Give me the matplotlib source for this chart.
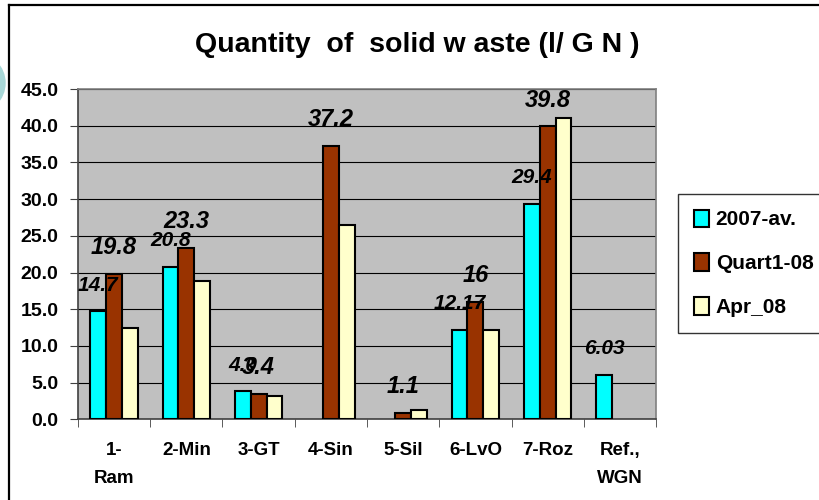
import matplotlib
matplotlib.use("Agg")
import matplotlib.pyplot as plt
import numpy as np
from matplotlib.patches import Ellipse
from matplotlib.lines import Line2D

# data
kategoriler = ["1-\nRam", "2-Min", "3-GT", "4-Sin", "5-Sil", "6-LvO", "7-Roz", "Ref.,\nWGN"]
seriler = ["2007-av.", "Quart1-08", "Apr_08"]
av_2007 = [14.7, 20.8, 3.8, np.nan, np.nan, 12.17, 29.4, 6.03]
quart1_08 = [19.8, 23.3, 3.5, 37.2, 0.9, 16.0, 39.9, np.nan]
apr_08 = [12.4, 18.8, 3.2, 26.5, 1.3, 12.2, 41.1, np.nan]
# value labels as printed in the chart (only first two series are labelled)
av_2007_etiket = ["14.7", "20.8", "4.0", None, None, "12.17", "29.4", "6.03"]
quart1_08_etiket = ["19.8", "23.3", "3.4", "37.2", "1.1", "16", "39.8", None]

renkler = ["#00FFFF", "#993300", "#FFFFCC"]

plt.rcParams['font.family'] = ['Liberation Sans', 'DejaVu Sans']

fig = plt.figure(figsize=(8.19, 5.0), dpi=100)
ax = fig.add_axes([0.0952, 0.1614, 0.7058, 0.6606])
ax.set_facecolor("#C0C0C0")

x = np.arange(len(kategoriler))
w = 0.22
degerler = [av_2007, quart1_08, apr_08]
barlar = []
for i, (seri, renk) in enumerate(zip(degerler, renkler)):
    b = ax.bar(x + (i - 1) * w, seri, width=w, color=renk, edgecolor="black",
               linewidth=1.5, label=seriler[i], zorder=3)
    barlar.append(b)

# data labels, floating above the bars
for seri_i, (etiketler, boyut) in enumerate([(av_2007_etiket, 15), (quart1_08_etiket, 17)]):
    for j, et in enumerate(etiketler):
        if et is None:
            continue
        ax.annotate(et, xy=(x[j] + (seri_i - 1) * w, degerler[seri_i][j]),
                    xytext=(0, 19), textcoords="offset points",
                    ha="center", va="center", fontsize=boyut,
                    fontweight="bold", fontstyle="italic",
                    family=['Liberation Sans Narrow', 'Liberation Sans'], zorder=5)

ax.set_xlim(-0.5, len(kategoriler) - 0.5)
ax.set_ylim(0, 45)
ax.set_yticks(np.arange(0, 46, 5))
ax.set_yticklabels([f"{v:.1f}" for v in np.arange(0, 46, 5)], fontsize=14, fontweight="bold")
ax.yaxis.grid(True, color="black", linewidth=0.8)
ax.set_axisbelow(True)

ax.set_xticks(x)
ax.set_xticklabels(kategoriler, fontsize=13.5, fontweight="bold", linespacing=1.85, va="top")
ax.set_xticks(np.arange(-0.5, len(kategoriler)), minor=True)
ax.tick_params(axis="x", which="major", length=0, pad=16)
ax.tick_params(axis="x", which="minor", length=6, direction="out", color="#404040")
ax.tick_params(axis="y", length=6, direction="out", color="#404040", pad=8)

for s in ["top", "right"]:
    ax.spines[s].set_color("#808080")
    ax.spines[s].set_linewidth(1.2)
for s in ["left", "bottom"]:
    ax.spines[s].set_color("#404040")
    ax.spines[s].set_linewidth(1.2)

fig.text(0.509, 0.91, "Quantity  of  solid w aste (l/ G N )", ha="center", va="center",
         fontsize=20.5, fontweight="bold")

leg = fig.legend(handles=barlar, labels=seriler, loc="upper left",
                 bbox_to_anchor=(0.828, 0.612), frameon=True, fancybox=False,
                 prop={"weight": "bold", "size": 15}, handlelength=0.75,
                 handleheight=0.9, handletextpad=0.3, labelspacing=1.15,
                 borderpad=0.75, borderaxespad=0)
leg.get_frame().set_edgecolor("black")
leg.get_frame().set_linewidth(1.0)

# outer frame of the slide and the teal decoration at left
fig.add_artist(Line2D([9 / 819, 9 / 819], [0, 1 - 4.5 / 500], transform=fig.transFigure,
                      color="black", linewidth=1.6))
fig.add_artist(Line2D([9 / 819, 1], [1 - 4.5 / 500, 1 - 4.5 / 500], transform=fig.transFigure,
                      color="black", linewidth=1.6))
fig.add_artist(Ellipse((-25 / 819, 1 - 83 / 500), 60 / 819, 60 / 500,
                       transform=fig.transFigure, color="#A8D8D8", zorder=0))

fig.savefig("out.png", dpi=100)
